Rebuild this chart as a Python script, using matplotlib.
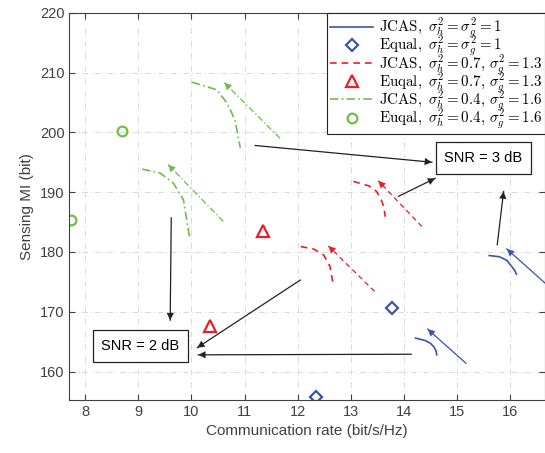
import matplotlib
matplotlib.use("Agg")
import matplotlib.pyplot as plt

plt.rcParams['font.family'] = ['Liberation Sans', 'DejaVu Sans']
plt.rcParams['mathtext.fontset'] = 'cm'

# JCAS trade-off curves, two SNR levels per channel setting
blue_2db_x = [14.22, 14.40, 14.50, 14.57, 14.61, 14.62]
blue_2db_y = [165.6, 165.2, 164.75, 164.1, 163.4, 162.8]
blue_3db_x = [15.61, 15.80, 15.94, 16.03, 16.09, 16.12]
blue_3db_y = [179.4, 179.2, 178.6, 177.6, 176.9, 176.3]
red_2db_x = [12.06, 12.30, 12.49, 12.61, 12.66]
red_2db_y = [180.9, 180.5, 179.5, 177.6, 175.05]
red_3db_x = [13.05, 13.34, 13.49, 13.59, 13.63, 13.65]
red_3db_y = [191.8, 191.05, 190.1, 188.4, 187.2, 185.9]
green_2db_x = [9.07, 9.41, 9.66, 9.85, 9.96]
green_2db_y = [193.85, 193.2, 191.5, 188.7, 182.6]
green_3db_x = [10.01, 10.48, 10.67, 10.82, 10.92]
green_3db_y = [208.4, 207.1, 204.9, 202.1, 197.4]

# equal power allocation points (2 dB, 3 dB)
equal_blue_x = [12.35, 13.78]
equal_blue_y = [155.8, 170.6]
equal_red_x = [10.35, 11.35]
equal_red_y = [167.6, 183.5]
equal_green_x = [7.73, 8.69]
equal_green_y = [185.4, 200.3]

# direction arrows next to each curve: (tail, tip)
blue_arrows = [((15.17, 161.4), (14.45, 167.1)), ((16.66, 174.8), (15.94, 180.5))]
red_arrows = [((13.45, 173.4), (12.58, 181.0)), ((14.34, 184.25), (13.52, 191.9))]
green_arrows = [((10.6, 185.1), (9.56, 194.6)), ((11.67, 199.0), (10.62, 208.3))]

# pointers to the SNR labels
snr2_label = (9.04, 164.3)
snr3_label = (15.50, 195.7)
snr2_pointers = [((9.62, 185.7), (9.60, 168.6)),
                 ((12.05, 175.3), (10.11, 164.0)),
                 ((14.14, 162.9), (10.13, 162.8))]
snr3_pointers = [((11.20, 197.8), (14.53, 195.0)),
                 ((13.90, 189.3), (14.59, 192.3)),
                 ((15.76, 181.2), (15.88, 190.1))]

blue = '#3a55a8'
red = '#ee1c25'
green = '#6cbf4a'
axcol = '#404040'

fig = plt.figure(figsize=(5.45, 4.53), dpi=100)
ax = fig.add_axes([0.1272, 0.117, 0.8728, 0.855])


def arrow(tail, tip, color, ls, lw=0.9):
    ax.plot([tail[0], tip[0]], [tail[1], tip[1]], color=color, ls=ls, lw=lw)
    ax.annotate('', xy=tip, xytext=tail,
                arrowprops=dict(arrowstyle='-|>', color=color, lw=0.01,
                                mutation_scale=13, shrinkA=0, shrinkB=0))


ax.plot(blue_2db_x, blue_2db_y, color=blue, lw=1.2,
        label=r'$\mathrm{JCAS},\ \sigma_h^2=\sigma_g^2=1$')
ax.plot(blue_3db_x, blue_3db_y, color=blue, lw=1.2)
ax.plot(equal_blue_x, equal_blue_y, ls='none', marker='D', ms=6.5, mfc='none',
        mec=blue, mew=1.6, label=r'$\mathrm{Equal},\ \sigma_h^2=\sigma_g^2=1$')
ax.plot(red_2db_x, red_2db_y, color=red, lw=1.2, ls=(0, (4, 3)),
        label=r'$\mathrm{JCAS},\ \sigma_h^2=0.7,\,\sigma_g^2=1.3$')
ax.plot(red_3db_x, red_3db_y, color=red, lw=1.2, ls=(0, (4, 3)))
ax.plot(equal_red_x, equal_red_y, ls='none', marker='^', ms=8, mfc='none',
        mec=red, mew=1.6, label=r'$\mathrm{Euqal},\ \sigma_h^2=0.7,\,\sigma_g^2=1.3$')
ax.plot(green_2db_x, green_2db_y, color=green, lw=1.2, ls=(0, (5, 2, 1, 2)),
        label=r'$\mathrm{JCAS},\ \sigma_h^2=0.4,\,\sigma_g^2=1.6$')
ax.plot(green_3db_x, green_3db_y, color=green, lw=1.2, ls=(0, (5, 2, 1, 2)))
ax.plot(equal_green_x, equal_green_y, ls='none', marker='o', ms=7, mfc='none',
        mec=green, mew=1.6, label=r'$\mathrm{Euqal},\ \sigma_h^2=0.4,\,\sigma_g^2=1.6$')

for tail, tip in blue_arrows:
    arrow(tail, tip, blue, '-')
for tail, tip in red_arrows:
    arrow(tail, tip, red, (0, (4, 3)))
for tail, tip in green_arrows:
    arrow(tail, tip, green, (0, (5, 2, 1, 2)))
for tail, tip in snr2_pointers + snr3_pointers:
    arrow(tail, tip, '#222222', '-')

box = dict(boxstyle='square,pad=0.6', fc='white', ec='#222222', lw=0.9)
ax.text(*snr2_label, 'SNR = 2 dB', fontsize=10.5, ha='center', va='center', bbox=box)
ax.text(*snr3_label, 'SNR = 3 dB', fontsize=10.5, ha='center', va='center', bbox=box)

ax.set_xlim(7.7, 16.66)
ax.set_ylim(155.25, 220)
ax.set_xticks(range(8, 17))
ax.set_yticks(range(160, 221, 10))
ax.grid(True, ls=(0, (6, 3, 1, 3)), color='#d9d9d9', lw=0.7)
ax.tick_params(direction='in', top=True, right=True, colors=axcol,
               labelsize=10.5, length=4)
for s in ax.spines.values():
    s.set_color(axcol)
    s.set_linewidth(0.8)
ax.set_xlabel('Communication rate (bit/s/Hz)', fontsize=11, color=axcol)
ax.set_ylabel('Sensing MI (bit)', fontsize=11, color=axcol)

# scripted labels have tall boxes, so rows are packed tighter than the default
leg = ax.legend(loc='upper right', fontsize=10.8, handlelength=2.9,
                labelspacing=-0.42, borderaxespad=0, fancybox=False,
                framealpha=1, edgecolor='#222222', borderpad=0.2,
                handletextpad=0.35)
leg.get_frame().set_linewidth(0.8)

fig.savefig('out.png', dpi=100)
